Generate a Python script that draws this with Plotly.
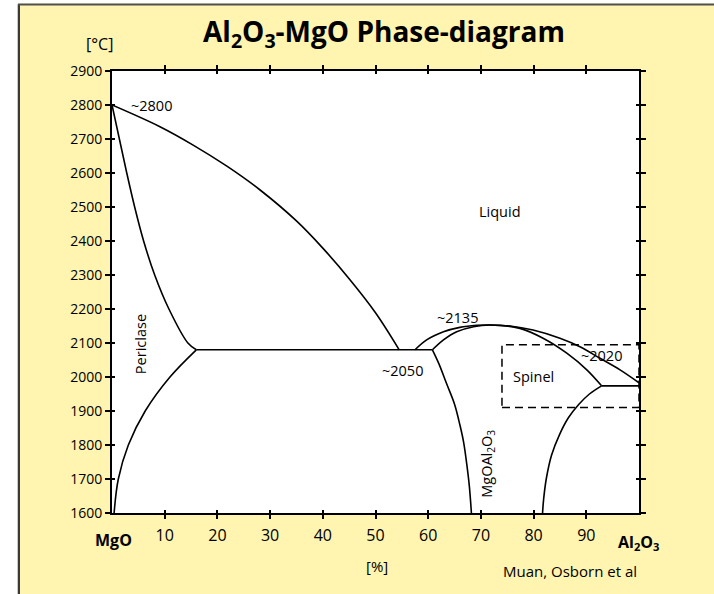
import plotly.graph_objects as go

# ---------------- data (x = % Al2O3, T = deg C) ----------------
liq_mgo_x = [0, 9.1, 15.4, 21.8, 28.1, 35, 40, 45, 50, 54.5]
liq_mgo_t = [2800, 2736, 2682, 2620, 2550, 2459, 2379, 2289, 2189, 2080]

per_sol_x = [0, 1.4, 2.8, 4.3, 6.0, 8.1, 10.8, 14.4, 16]
per_sol_t = [2800, 2700, 2600, 2500, 2400, 2300, 2200, 2100, 2080]

per_solvus_x = [16, 11, 6.3, 3.1, 1.2, 0.4]
per_solvus_t = [2080, 2000, 1900, 1800, 1700, 1600]

eut_x = [16, 60.8]
eut_t = [2080, 2080]

sp_liq_x = [57.5, 59.7, 62.9, 66, 69.2, 71.7, 75.5, 79.9, 85.0, 88.8, 92.6, 96.4, 100]
sp_liq_t = [2080, 2109, 2133, 2146, 2152, 2153, 2150, 2138, 2114, 2089, 2055, 2021, 1983]

sp_sol_x = [60.8, 62.9, 65.4, 68.6, 71.7, 77.4, 81.8, 86.3, 90.1, 92.9]
sp_sol_t = [2080, 2109, 2133, 2148, 2153, 2143, 2114, 2070, 2021, 1974]

sp_left_x = [60.8, 62, 63.5, 65, 66, 66.7, 67.3, 67.8, 68.2]
sp_left_t = [2080, 2040, 1980, 1920, 1860, 1810, 1746, 1680, 1600]

sp_right_x = [92.9, 90.6, 88.6, 86.6, 84.9, 83.4, 82.4, 81.9, 81.7]
sp_right_t = [1974, 1950, 1920, 1880, 1830, 1770, 1700, 1640, 1600]

al_eut_x = [92.9, 100]
al_eut_t = [1974, 1974]

spinel_box_x = [74, 100]
spinel_box_t = [1910, 2095]

x_ticks = [10, 20, 30, 40, 50, 60, 70, 80, 90]
y_ticks = list(range(1600, 2901, 100))

labels = [
    ("~2800", 7.5, 2798, 0),
    ("Liquid", 73.6, 2488, 0),
    ("~2135", 65.5, 2174, 0),
    ("~2020", 92.9, 2062, 0),
    ("~2050", 55.1, 2018, 0),
    ("Spinel", 80.0, 2001, 0),
    ("Periclase", 5.4, 2098, -90),
    ("MgOAl<sub>2</sub>O<sub>3</sub>", 71.1, 1744, -90),
]

# ---------------- layout geometry ----------------
W, H = 714, 594
L, R, T, B = 112, 75, 71, 81
PW, PH = W - L - R, H - T - B
YEL = "#FFF4B0"
FONT = "Open Sans, Noto Sans, sans-serif"


def px(xp):
    return (xp - L) / PW


def py(yp):
    return (H - B - yp) / PH


fig = go.Figure()
line = dict(color="black", width=1.6, shape="spline", smoothing=1.0)
for xs, ts in [(liq_mgo_x, liq_mgo_t), (per_sol_x, per_sol_t),
               (per_solvus_x, per_solvus_t), (eut_x, eut_t),
               (sp_liq_x, sp_liq_t), (sp_sol_x, sp_sol_t),
               (sp_left_x, sp_left_t), (sp_right_x, sp_right_t),
               (al_eut_x, al_eut_t)]:
    fig.add_trace(go.Scatter(x=xs, y=ts, mode="lines", line=line,
                             showlegend=False, hoverinfo="skip"))

# dummy trace for overlay axes (inside ticks)
fig.add_trace(go.Scatter(x=[None], y=[None], xaxis="x2", yaxis="y2",
                         showlegend=False))

fig.add_shape(type="rect", xref="x", yref="y",
              x0=spinel_box_x[0], x1=spinel_box_x[1],
              y0=spinel_box_t[0], y1=spinel_box_t[1],
              line=dict(color="black", width=1.5, dash="8px,5px"))

# outer panel: white margins + dark border
fig.add_shape(type="rect", xref="paper", yref="paper",
              x0=px(-5), x1=px(18), y0=py(H + 5), y1=py(-5),
              fillcolor="white", line_width=0, layer="below")
fig.add_shape(type="rect", xref="paper", yref="paper",
              x0=px(-5), x1=px(W + 5), y0=py(3.5), y1=py(-5),
              fillcolor="white", line_width=0, layer="below")
fig.add_shape(type="line", xref="paper", yref="paper",
              x0=px(17.5), x1=px(17.5), y0=py(4), y1=py(H + 5),
              line=dict(color="#C8C8C8", width=1))
fig.add_shape(type="line", xref="paper", yref="paper",
              x0=px(19), x1=px(19), y0=py(4), y1=py(H + 5),
              line=dict(color="#3A3A3A", width=2))
fig.add_shape(type="line", xref="paper", yref="paper",
              x0=px(18), x1=px(W + 5), y0=py(4.5), y1=py(4.5),
              line=dict(color="#505050", width=2))

for text, xv, tv, ang in labels:
    fig.add_annotation(x=xv, y=tv, xref="x", yref="y", text=text,
                       showarrow=False, textangle=ang,
                       font=dict(family=FONT, size=14.5, color="black"))

paper_ann = [
    ("<b>Al<sub>2</sub>O<sub>3</sub>-MgO Phase-diagram</b>", 384, 33, 28),
    ("[°C]", 99, 44, 16),
    ("<b>MgO</b>", 113, 540, 16),
    ("<b>Al<sub>2</sub>O<sub>3</sub></b>", 638, 542, 16),
    ("[%]", 377, 566, 15),
    ("Muan, Osborn et al", 570, 571, 15),
]
for text, xp, yp, fs in paper_ann:
    fig.add_annotation(x=px(xp), y=py(yp), xref="paper", yref="paper",
                       text=text, showarrow=False, xanchor="center",
                       yanchor="middle",
                       font=dict(family=FONT, size=fs, color="black"))

axis_common = dict(showgrid=False, zeroline=False, linecolor="black",
                   linewidth=2, tickcolor="black", tickwidth=1.5)

fig.update_layout(
    width=W, height=H,
    margin=dict(l=L, r=R, t=T, b=B, pad=0),
    paper_bgcolor=YEL, plot_bgcolor="white",
    font=dict(family=FONT, color="black"),
    xaxis=dict(range=[0, 100], tickvals=x_ticks,
               ticktext=[str(v) for v in x_ticks],
               ticks="outside", ticklen=4, mirror="ticks", showline=True,
               tickfont=dict(size=16), ticklabelstandoff=3, **axis_common),
    yaxis=dict(range=[1600, 2900], tickvals=y_ticks,
               ticktext=[str(v) for v in y_ticks],
               ticks="outside", ticklen=5, mirror="ticks", showline=True,
               tickfont=dict(size=14), **axis_common),
    xaxis2=dict(range=[0, 100], overlaying="x", anchor="y2", side="bottom",
                tickvals=x_ticks, ticks="inside", ticklen=3, mirror="ticks",
                showticklabels=False, showline=False, showgrid=False,
                zeroline=False, tickcolor="black", tickwidth=1.5),
    yaxis2=dict(range=[1600, 2900], overlaying="y", anchor="x2", side="left",
                tickvals=y_ticks, ticks="inside", ticklen=3, mirror="ticks",
                showticklabels=False, showline=False, showgrid=False,
                zeroline=False, tickcolor="black", tickwidth=1.5),
)

fig.write_html("out.html")
